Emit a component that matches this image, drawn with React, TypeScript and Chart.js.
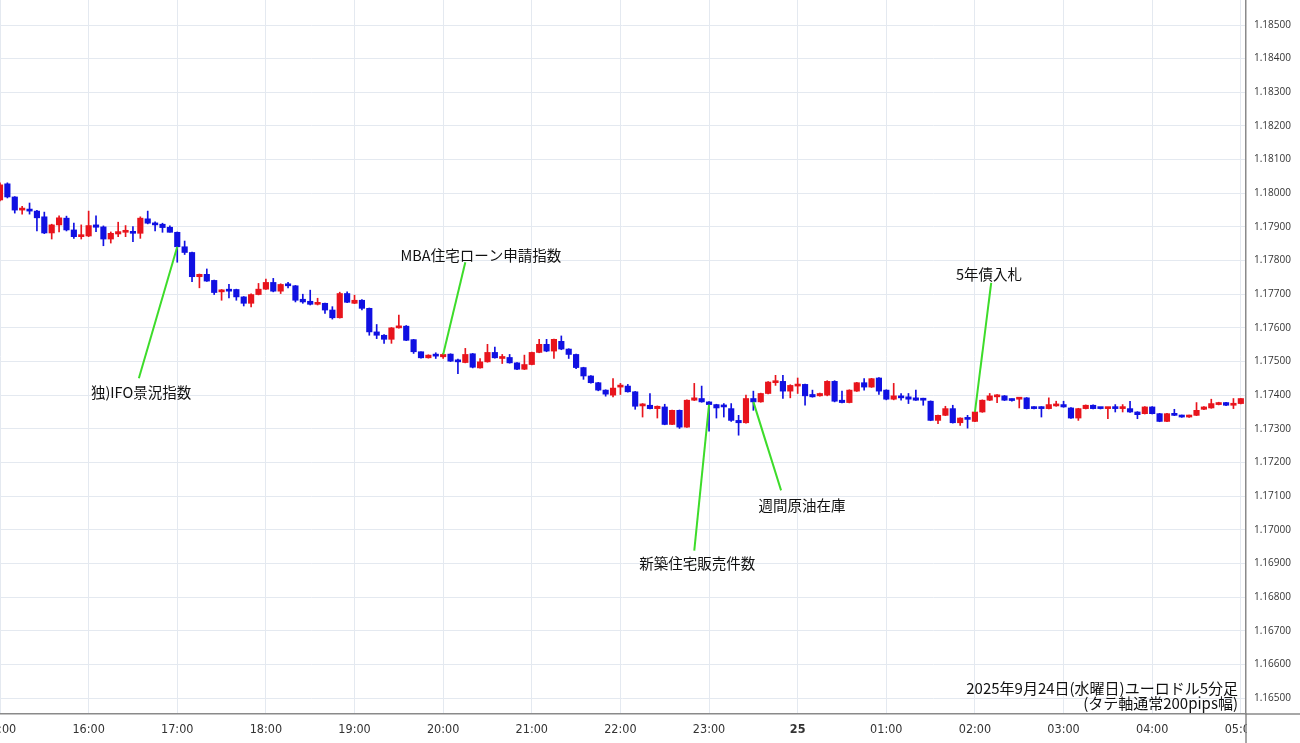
import { useEffect, useRef } from "react";
import { Chart, registerables } from "chart.js";

Chart.register(...registerables);

// ---- data (EUR/USD 5-minute candles, 15:00 -> 05:00) ----
const opens = [
  1.1798, 1.18028, 1.17989, 1.1795, 1.17953, 1.17947, 1.1793, 1.17882, 1.17906, 1.17926,
  1.17891, 1.17871, 1.17873, 1.17906, 1.179, 1.17864, 1.17879, 1.17884, 1.17886, 1.17881,
  1.17924, 1.17911, 1.17908, 1.17899, 1.17884, 1.17841, 1.17824, 1.17752, 1.17759, 1.17741,
  1.17707, 1.17712, 1.17714, 1.17692, 1.17673, 1.17699, 1.17715, 1.17735, 1.17709, 1.17729,
  1.17725, 1.17685, 1.17679, 1.1767, 1.17673, 1.17653, 1.1763, 1.17702, 1.17673, 1.17682,
  1.17658, 1.17588, 1.17578, 1.17566, 1.176, 1.17605, 1.17565, 1.17529, 1.17511, 1.17519,
  1.17514, 1.17522, 1.17504, 1.17497, 1.17523, 1.17481, 1.17499, 1.17527, 1.17509, 1.17512,
  1.17496, 1.17477, 1.17491, 1.17527, 1.17551, 1.17531, 1.1756, 1.17537, 1.17521, 1.17482,
  1.17457, 1.17437, 1.17415, 1.174, 1.17424, 1.17427, 1.1741, 1.17368, 1.1737, 1.1736,
  1.17365, 1.17313, 1.17355, 1.17305, 1.17385, 1.1739, 1.1738, 1.17372, 1.1737, 1.1736,
  1.17325, 1.17318, 1.1739, 1.1738, 1.17405, 1.17437, 1.17441, 1.17412, 1.17427, 1.17432,
  1.17402, 1.17398, 1.174, 1.17441, 1.17385, 1.17378, 1.17412, 1.17437, 1.17424, 1.17451,
  1.17415, 1.17388, 1.17395, 1.17395, 1.17392, 1.17387, 1.17382, 1.17325, 1.1734, 1.1736,
  1.17318, 1.17332, 1.17322, 1.1735, 1.17385, 1.17395, 1.17398, 1.17388, 1.17388, 1.17392,
  1.17365, 1.17365, 1.1736, 1.17368, 1.17372, 1.17362, 1.17332, 1.1736, 1.1737, 1.17362,
  1.1736, 1.17362, 1.1736, 1.1736, 1.1735, 1.17345, 1.17365, 1.17345, 1.17322, 1.17345,
  1.1734, 1.17335, 1.1734, 1.17358, 1.17362, 1.17372, 1.17378, 1.1737, 1.17375,
];
const highs = [
  1.18031, 1.18031, 1.1799, 1.17961, 1.17971, 1.17949, 1.17944, 1.17908, 1.17933, 1.17932,
  1.17911, 1.17906, 1.17947, 1.17933, 1.17903, 1.17885, 1.17914, 1.17904, 1.17901, 1.1793,
  1.17947, 1.17915, 1.17911, 1.17903, 1.17885, 1.17858, 1.17825, 1.1776, 1.17775, 1.17742,
  1.17714, 1.17729, 1.17715, 1.17693, 1.17701, 1.17732, 1.17745, 1.17747, 1.17731, 1.17735,
  1.17726, 1.177, 1.17712, 1.17688, 1.17674, 1.17663, 1.17706, 1.17707, 1.17697, 1.17684,
  1.17659, 1.1761, 1.1758, 1.17601, 1.17638, 1.17607, 1.17566, 1.17529, 1.1752, 1.17526,
  1.17524, 1.17523, 1.17507, 1.17539, 1.17524, 1.17509, 1.17551, 1.17543, 1.17521, 1.17521,
  1.17497, 1.17519, 1.17528, 1.17566, 1.17566, 1.17567, 1.17576, 1.17538, 1.17522, 1.17483,
  1.17458, 1.17438, 1.17416, 1.17449, 1.17435, 1.17432, 1.17411, 1.17375, 1.17405, 1.17368,
  1.17373, 1.17356, 1.17356, 1.17386, 1.17435, 1.17427, 1.17381, 1.17373, 1.17375, 1.17375,
  1.1734, 1.174, 1.17412, 1.17406, 1.1744, 1.17459, 1.17459, 1.17431, 1.17451, 1.17433,
  1.17415, 1.17406, 1.17443, 1.17443, 1.17412, 1.17416, 1.17438, 1.17449, 1.1745, 1.17452,
  1.17416, 1.17435, 1.17405, 1.17405, 1.17415, 1.17391, 1.17383, 1.17341, 1.17367, 1.1737,
  1.17333, 1.1734, 1.17351, 1.17386, 1.17405, 1.17402, 1.17399, 1.17389, 1.17393, 1.17393,
  1.17366, 1.17366, 1.17392, 1.17382, 1.17382, 1.17363, 1.17361, 1.17371, 1.17371, 1.17363,
  1.17363, 1.17372, 1.17372, 1.17382, 1.17351, 1.17366, 1.17366, 1.17346, 1.17346, 1.17358,
  1.17341, 1.17341, 1.17378, 1.17366, 1.17388, 1.17379, 1.17379, 1.1739, 1.1739,
];
const lows = [
  1.17977, 1.17986, 1.17941, 1.17938, 1.17938, 1.17888, 1.1788, 1.17864, 1.17885, 1.17888,
  1.17866, 1.17864, 1.17871, 1.17886, 1.17844, 1.17852, 1.17871, 1.17871, 1.17856, 1.17866,
  1.17909, 1.17888, 1.17884, 1.17884, 1.17795, 1.17818, 1.17737, 1.17719, 1.17738, 1.17699,
  1.17682, 1.17689, 1.17682, 1.17665, 1.17662, 1.17698, 1.17714, 1.17707, 1.17702, 1.17719,
  1.17677, 1.17673, 1.17668, 1.17668, 1.17643, 1.17626, 1.17629, 1.17675, 1.17672, 1.17653,
  1.17578, 1.17568, 1.17554, 1.17554, 1.17599, 1.17562, 1.17524, 1.1751, 1.1751, 1.17509,
  1.17509, 1.175, 1.17464, 1.17496, 1.17481, 1.1748, 1.17498, 1.1751, 1.17494, 1.17495,
  1.17476, 1.17476, 1.1749, 1.17526, 1.17529, 1.17509, 1.17535, 1.17509, 1.17479, 1.17447,
  1.17436, 1.17413, 1.17397, 1.17395, 1.17402, 1.17409, 1.17358, 1.17335, 1.17359, 1.17332,
  1.17312, 1.17312, 1.17301, 1.17304, 1.17384, 1.17379, 1.17293, 1.17332, 1.17335, 1.17322,
  1.17281, 1.17317, 1.17355, 1.17379, 1.17404, 1.17429, 1.1739, 1.17392, 1.17405, 1.1737,
  1.17394, 1.17397, 1.17398, 1.1738, 1.17377, 1.17377, 1.17411, 1.17415, 1.17423, 1.17402,
  1.17386, 1.17386, 1.17385, 1.17375, 1.17384, 1.1737, 1.17324, 1.17315, 1.17339, 1.17317,
  1.1731, 1.17302, 1.17321, 1.17349, 1.17384, 1.17378, 1.17384, 1.17382, 1.17362, 1.17359,
  1.17359, 1.17335, 1.17359, 1.17367, 1.17364, 1.17331, 1.17325, 1.17359, 1.17359, 1.17359,
  1.1733, 1.1735, 1.1735, 1.17349, 1.1733, 1.17344, 1.17344, 1.17321, 1.17321, 1.17339,
  1.17334, 1.17334, 1.17339, 1.17357, 1.17361, 1.17371, 1.17369, 1.1736, 1.17374,
];
const closes = [
  1.18025, 1.17989, 1.1795, 1.17955, 1.17947, 1.17927, 1.17882, 1.17906, 1.17927, 1.17891,
  1.17871, 1.17876, 1.17904, 1.17899, 1.17864, 1.17881, 1.17886, 1.17888, 1.17881, 1.17926,
  1.17911, 1.17906, 1.17898, 1.17884, 1.17841, 1.17824, 1.17752, 1.17759, 1.17739, 1.17705,
  1.17712, 1.17709, 1.17692, 1.17673, 1.17699, 1.17715, 1.17735, 1.17709, 1.17729, 1.17725,
  1.17682, 1.17677, 1.1767, 1.17674, 1.17653, 1.1763, 1.17702, 1.17676, 1.17682, 1.17658,
  1.17588, 1.17578, 1.17566, 1.176, 1.17605, 1.17563, 1.17529, 1.17511, 1.17519, 1.17516,
  1.17521, 1.17501, 1.17499, 1.17521, 1.17483, 1.17499, 1.17527, 1.17511, 1.17512, 1.17496,
  1.17477, 1.17491, 1.17527, 1.17551, 1.17531, 1.17566, 1.17537, 1.17521, 1.17482, 1.17457,
  1.17437, 1.17415, 1.17403, 1.17421, 1.17429, 1.1741, 1.17367, 1.17374, 1.1736, 1.17367,
  1.17313, 1.17355, 1.17305, 1.17385, 1.17392, 1.1738, 1.17372, 1.17362, 1.17365, 1.17325,
  1.17318, 1.1739, 1.1738, 1.17405, 1.17439, 1.17441, 1.17412, 1.17429, 1.17432, 1.17398,
  1.17395, 1.17405, 1.17441, 1.17382, 1.17378, 1.17415, 1.17437, 1.17424, 1.17449, 1.17412,
  1.17388, 1.17398, 1.17392, 1.17388, 1.17385, 1.17385, 1.17325, 1.1734, 1.1736, 1.17318,
  1.17332, 1.17328, 1.1735, 1.17385, 1.17398, 1.17398, 1.17385, 1.17384, 1.17392, 1.1736,
  1.1736, 1.1736, 1.17372, 1.17372, 1.17365, 1.17332, 1.1736, 1.1737, 1.1736, 1.1736,
  1.17362, 1.1736, 1.17362, 1.1735, 1.17342, 1.17365, 1.17345, 1.17322, 1.17345, 1.1734,
  1.17335, 1.1734, 1.17355, 1.17365, 1.17375, 1.17378, 1.1737, 1.17375, 1.1739,
];

const hourLabels = [
  "15:00", "16:00", "17:00", "18:00", "19:00", "20:00", "21:00", "22:00",
  "23:00", "25", "01:00", "02:00", "03:00", "04:00", "05:00",
];
const candlesPerHour = 12;

const yTickLabels = [
  "1.16500", "1.16600", "1.16700", "1.16800", "1.16900", "1.17000", "1.17100",
  "1.17200", "1.17300", "1.17400", "1.17500", "1.17600", "1.17700", "1.17800",
  "1.17900", "1.18000", "1.18100", "1.18200", "1.18300", "1.18400", "1.18500",
];

// event annotations: text, candle index they point to
const annoTexts = ["独)IFO景況指数", "MBA住宅ローン申請指数", "新築住宅販売件数", "週間原油在庫", "5年債入札"];
const annoCandles = [24, 60, 96, 102, 132];

const footerLines = ["2025年9月24日(水曜日)ユーロドル5分足", "(タテ軸通常200pips幅)"];

// annotation layout (in axis units: candle index / price)
const annoLayout = [
  { lineX: 18.8, lineY: 1.1745, textX: 19.1, textY: 1.17408 },
  { lineX: 63.0, lineY: 1.17795, textX: 65.1, textY: 1.17816 },
  { lineX: 94.0, lineY: 1.16938, textX: 94.4, textY: 1.169 },
  { lineX: 105.75, lineY: 1.17117, textX: 108.6, textY: 1.17072 },
  { lineX: 134.2, lineY: 1.17734, textX: 133.9, textY: 1.17758 },
];

const RED = "#e8141c";
const BLUE = "#1010e2";
const GREEN = "#3ddc2a";
const GRID = "#e4e9f0";
const AXIS = "#8a8a8a";
const CJK = '"Noto Sans CJK JP", "Noto Sans", sans-serif';

export default function App() {
  const ref = useRef<HTMLCanvasElement>(null);

  useEffect(() => {
    const canvas = ref.current;
    if (!canvas) return;
    const colors = opens.map((o, i) => (closes[i] >= o ? RED : BLUE));
    const bodies = opens.map((o, i) => ({ x: i, y: [o, closes[i]] }));
    const wicks = lows.map((l, i) => ({ x: i, y: [l, highs[i]] }));

    const overlay = {
      id: "overlay",
      afterDatasetsDraw(chart: any) {
        const { ctx, scales } = chart;
        const xs = scales.x;
        const ys = scales.y;
        ctx.save();
        ctx.strokeStyle = GREEN;
        ctx.lineWidth = 2;
        annoCandles.forEach((c, k) => {
          ctx.beginPath();
          ctx.moveTo(xs.getPixelForValue(c), ys.getPixelForValue(closes[c]));
          ctx.lineTo(xs.getPixelForValue(annoLayout[k].lineX), ys.getPixelForValue(annoLayout[k].lineY));
          ctx.stroke();
        });
        ctx.fillStyle = "#111";
        ctx.font = `14.5px ${CJK}`;
        ctx.textAlign = "center";
        ctx.textBaseline = "middle";
        annoTexts.forEach((t, k) => {
          ctx.fillText(t, xs.getPixelForValue(annoLayout[k].textX), ys.getPixelForValue(annoLayout[k].textY));
        });
        ctx.restore();
      },
      afterDraw(chart: any) {
        const { ctx, chartArea, width, height } = chart;
        ctx.save();
        // axis corner
        ctx.fillStyle = "#fff";
        ctx.fillRect(chartArea.right + 1, chartArea.bottom + 1, width - chartArea.right, height - chartArea.bottom);
        ctx.strokeStyle = AXIS;
        ctx.lineWidth = 1.5;
        ctx.beginPath();
        ctx.moveTo(chartArea.right, chartArea.bottom);
        ctx.lineTo(chartArea.right, height);
        ctx.moveTo(chartArea.right, chartArea.bottom);
        ctx.lineTo(width, chartArea.bottom);
        ctx.stroke();
        // footer
        ctx.fillStyle = "#111";
        ctx.font = `15px ${CJK}`;
        ctx.textAlign = "right";
        ctx.textBaseline = "middle";
        ctx.fillText(footerLines[0], chartArea.right - 8, chartArea.bottom - 26);
        ctx.fillText(footerLines[1], chartArea.right - 8, chartArea.bottom - 11);
        ctx.restore();
      },
    };

    const chart = new Chart(canvas, {
      type: "bar",
      data: {
        datasets: [
          {
            label: "wick",
            data: wicks as any,
            backgroundColor: colors,
            borderWidth: 0,
            barThickness: 1,
            grouped: false,
            order: 2,
          } as any,
          {
            label: "body",
            data: bodies as any,
            backgroundColor: colors,
            borderWidth: 0,
            barThickness: 5.5,
            minBarLength: 2,
            grouped: false,
            order: 1,
          } as any,
        ],
      },
      options: {
        responsive: false,
        animation: false,
        devicePixelRatio: 1,
        layout: { padding: 0 },
        plugins: { legend: { display: false }, tooltip: { enabled: false } },
        scales: {
          x: {
            type: "linear",
            min: 0,
            max: 168.7,
            offset: false,
            grid: { color: GRID, lineWidth: 1, drawTicks: false, offset: false },
            border: { color: AXIS, width: 1.5 },
            afterBuildTicks: (s: any) => {
              s.ticks = hourLabels.map((_, k) => ({ value: k * candlesPerHour }));
            },
            afterFit: (s: any) => {
              s.height = 29;
              s.paddingLeft = 0;
              s.paddingRight = 0;
            },
            ticks: {
              autoSkip: false,
              maxRotation: 0,
              padding: 8,
              color: "#333",
              callback: (_v: any, i: number) => hourLabels[i],
              font: (c: any) => ({
                family: '"Liberation Sans Narrow", "DejaVu Sans Condensed", sans-serif',
                size: 12.5,
                weight: hourLabels[c.index] === "25" ? "bold" : "normal",
              }),
            },
          },
          y: {
            type: "linear",
            position: "right",
            min: 1.164525,
            max: 1.185743,
            beginAtZero: false,
            grid: { color: GRID, lineWidth: 1, drawTicks: false },
            border: { color: AXIS, width: 1.5 },
            afterBuildTicks: (s: any) => {
              s.ticks = yTickLabels.map((l) => ({ value: parseFloat(l) }));
            },
            afterFit: (s: any) => {
              s.width = 54;
              s.paddingTop = 0;
              s.paddingBottom = 0;
            },
            ticks: {
              padding: 8,
              color: "#333",
              callback: (_v: any, i: number) => yTickLabels[i],
              font: { family: '"Open Sans", "Noto Sans", sans-serif', size: 10 },
            },
          },
        },
      },
      plugins: [overlay],
    });
    return () => chart.destroy();
  }, []);

  return (
    <div style={{ position: "fixed", left: 0, top: 0, width: 1300, height: 743, background: "#fff" }}>
      <canvas ref={ref} width={1300} height={743} style={{ display: "block" }} />
    </div>
  );
}
